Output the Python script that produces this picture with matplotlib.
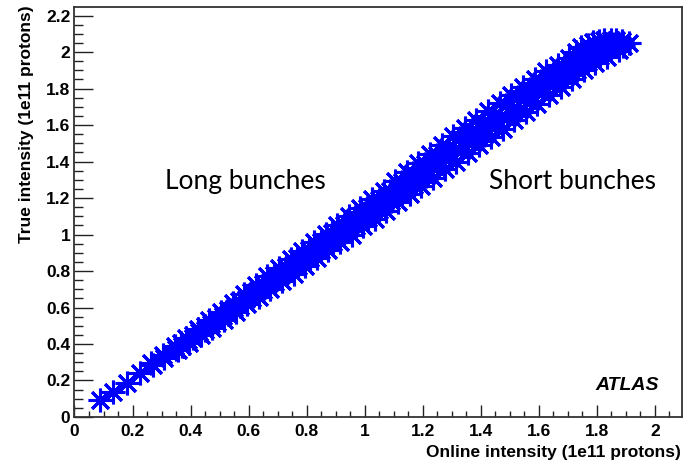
import matplotlib
matplotlib.use("Agg")
from matplotlib import pyplot as plt
from matplotlib.ticker import MultipleLocator

# online (x) vs true (y) bunch intensity, 1e11 protons
online = [0.088, 0.133, 0.181, 0.226,
          0.27, 0.265, 0.31, 0.305,
          0.355, 0.35, 0.345, 0.395, 0.39, 0.385,
          0.435, 0.43, 0.425, 0.475, 0.47, 0.465,
          0.515, 0.51, 0.505, 0.555, 0.55, 0.545,
          0.595, 0.59, 0.585, 0.635, 0.63, 0.625,
          0.675, 0.67, 0.665, 0.715, 0.71, 0.705,
          0.755, 0.75, 0.745, 0.795, 0.79, 0.785,
          0.835, 0.83, 0.825, 0.875, 0.87, 0.865,
          0.915, 0.91, 0.905, 0.955, 0.95, 0.945,
          0.995, 0.99, 0.985, 1.035, 1.03, 1.025,
          1.075, 1.07, 1.065, 1.115, 1.11, 1.105,
          1.155, 1.15, 1.145, 1.195, 1.19, 1.185,
          1.235, 1.23, 1.225, 1.275, 1.27, 1.265,
          1.315, 1.31, 1.305, 1.355, 1.35, 1.345,
          1.395, 1.39, 1.385, 1.435, 1.43, 1.425,
          1.475, 1.47, 1.465, 1.515, 1.51, 1.505,
          1.555, 1.55, 1.545, 1.595, 1.59, 1.585,
          1.635, 1.63, 1.625, 1.675, 1.67, 1.665,
          1.715, 1.71, 1.705, 1.755, 1.75, 1.745,
          1.795, 1.79, 1.785, 1.835, 1.83, 1.825,
          1.875, 1.87, 1.865, 1.91]
true = [0.093, 0.137, 0.186, 0.241,
        0.285, 0.295, 0.325, 0.34,
        0.365, 0.375, 0.39, 0.405, 0.42, 0.435,
        0.447, 0.465, 0.483, 0.49, 0.51, 0.53,
        0.533, 0.555, 0.577, 0.575, 0.60, 0.625,
        0.617, 0.645, 0.673, 0.658, 0.69, 0.722,
        0.70, 0.735, 0.77, 0.743, 0.78, 0.817,
        0.785, 0.825, 0.865, 0.828, 0.87, 0.912,
        0.87, 0.915, 0.96, 0.915, 0.96, 1.005,
        0.957, 1.005, 1.053, 1.0, 1.05, 1.10,
        1.045, 1.095, 1.145, 1.087, 1.14, 1.193,
        1.13, 1.185, 1.24, 1.178, 1.235, 1.292,
        1.22, 1.28, 1.34, 1.268, 1.33, 1.392,
        1.31, 1.375, 1.44, 1.357, 1.425, 1.493,
        1.40, 1.47, 1.54, 1.445, 1.515, 1.585,
        1.49, 1.56, 1.63, 1.535, 1.605, 1.675,
        1.58, 1.65, 1.72, 1.625, 1.695, 1.765,
        1.67, 1.74, 1.81, 1.715, 1.785, 1.855,
        1.765, 1.83, 1.895, 1.81, 1.87, 1.93,
        1.855, 1.91, 1.965, 1.90, 1.95, 2.03,
        1.94, 1.985, 2.055, 1.975, 2.015, 2.065,
        2.01, 2.04, 2.068, 2.05]

# bunches lying between the columns above
online_mid = [0.37, 0.368, 0.41, 0.408, 0.45, 0.448, 0.49, 0.488,
              0.53, 0.528, 0.57, 0.568, 0.61, 0.608, 0.65, 0.648,
              0.69, 0.688, 0.73, 0.728, 0.77, 0.768, 0.81, 0.808,
              0.85, 0.848, 0.89, 0.888, 0.93, 0.928, 0.97, 0.968,
              1.01, 1.008, 1.05, 1.048, 1.09, 1.088, 1.13, 1.128,
              1.17, 1.168, 1.21, 1.208, 1.25, 1.248, 1.29, 1.288,
              1.33, 1.328, 1.37, 1.368, 1.41, 1.408, 1.45, 1.448,
              1.49, 1.488, 1.53, 1.528, 1.57, 1.568, 1.61, 1.608,
              1.65, 1.648, 1.69, 1.688, 1.73, 1.728, 1.77, 1.768,
              1.81, 1.808, 1.85, 1.848, 1.89, 1.888]
true_mid = [0.39, 0.405, 0.435, 0.45, 0.478, 0.497, 0.522, 0.543,
            0.566, 0.589, 0.61, 0.635, 0.652, 0.683, 0.695, 0.73,
            0.739, 0.776, 0.782, 0.823, 0.826, 0.869, 0.87, 0.915,
            0.915, 0.96, 0.959, 1.006, 1.003, 1.052, 1.048, 1.097,
            1.091, 1.144, 1.135, 1.19, 1.182, 1.238, 1.228, 1.287,
            1.274, 1.336, 1.32, 1.385, 1.366, 1.434, 1.413, 1.482,
            1.457, 1.528, 1.502, 1.573, 1.547, 1.618, 1.592, 1.663,
            1.637, 1.708, 1.682, 1.753, 1.727, 1.798, 1.774, 1.841,
            1.82, 1.88, 1.862, 1.918, 1.904, 2.0, 1.945, 2.04,
            1.98, 2.06, 2.01, 2.066, 2.035, 2.06]

xticks = [0, 0.2, 0.4, 0.6, 0.8, 1, 1.2, 1.4, 1.6, 1.8, 2]
xtick_labels = ["0", "0.2", "0.4", "0.6", "0.8", "1", "1.2", "1.4", "1.6", "1.8", "2"]
yticks = [0, 0.2, 0.4, 0.6, 0.8, 1, 1.2, 1.4, 1.6, 1.8, 2, 2.2]
ytick_labels = ["0", "0.2", "0.4", "0.6", "0.8", "1", "1.2", "1.4", "1.6", "1.8", "2", "2.2"]

fig = plt.figure(figsize=(6.91, 4.63), dpi=100)
ax = fig.add_axes([0.1078, 0.0994, 0.8787, 0.8855])

# ROOT style asterisk marker (8 arms)
ax.plot(online + online_mid, true + true_mid, linestyle="none", marker=(8, 2, 0),
        markersize=17, markeredgewidth=2.2, color="#0000ff", clip_on=False)

ax.set_xlim(0, 2.092)
ax.set_ylim(0, 2.247)

bold = {"family": "Liberation Sans", "weight": "bold", "size": 12.5}
ax.set_xticks(xticks)
ax.set_xticklabels(xtick_labels, fontdict=bold)
ax.set_yticks(yticks)
ax.set_yticklabels(ytick_labels, fontdict=bold)
ax.xaxis.set_minor_locator(MultipleLocator(0.05))
ax.yaxis.set_minor_locator(MultipleLocator(0.05))
ax.tick_params(axis="x", which="major", direction="in", length=8.5, width=1, pad=5, color="#222222")
ax.tick_params(axis="x", which="minor", direction="in", length=4.2, width=1, color="#222222")
ax.tick_params(axis="y", which="major", direction="in", length=13.5, width=1, pad=3, color="#222222")
ax.tick_params(axis="y", which="minor", direction="in", length=6.7, width=1, color="#222222")
for s in ax.spines.values():
    s.set_linewidth(1.3)
    s.set_color("#333333")

fig.text(681 / 691, 1 - 452 / 463, "Online intensity (1e11 protons)", ha="right", va="center",
         fontdict=bold)
fig.text(27 / 691, 1 - 5 / 463, "True intensity (1e11 protons)", ha="center", va="top",
         rotation=90, fontdict=bold)

ax.text(0.312, 1.288, "Long bunches", family="Lato", fontsize=19, va="center", ha="left")
ax.text(1.428, 1.288, "Short bunches", family="Lato", fontsize=19, va="center", ha="left")
ax.text(2.014, 0.175, "ATLAS", family="Liberation Sans", weight="bold", style="italic",
        fontsize=14, va="center", ha="right")

fig.savefig("out.png", dpi=100)
